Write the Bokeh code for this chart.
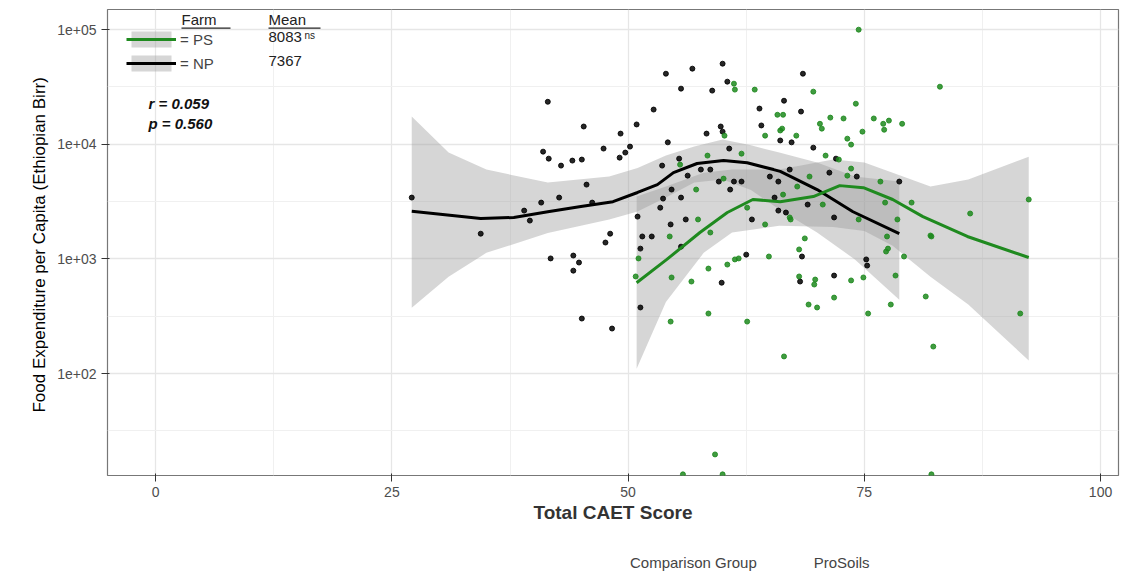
from bokeh.embed import file_html
from bokeh.resources import INLINE
from bokeh.layouts import column
from bokeh.plotting import figure
from bokeh.models import Range1d, FixedTicker, Legend, LegendItem, Label, BoxAnnotation

# ---- data ----
np_x = [27.1, 34.4, 41.5, 39.0, 39.6, 40.8, 42.7, 41.0, 41.6, 42.9, 44.1, 45.1, 45.3, 45.6,
        46.2, 47.4, 49.2, 49.1, 49.7, 50.2, 50.9, 52.7, 54.0, 55.6, 56.8, 58.9, 60.0, 60.5,
        41.8, 44.2, 44.8, 44.2, 47.6, 48.1, 54.2, 53.6, 55.4, 54.6, 53.7, 53.4, 54.5, 56.1,
        55.6, 55.6, 56.3, 57.7, 58.7, 58.3, 59.8, 60.0, 51.0, 51.5, 52.5, 51.3, 60.7, 60.8,
        61.2, 62.0, 59.6, 62.5, 59.9, 63.9, 64.1, 63.1, 65.0, 68.5, 66.5, 68.3, 66.1, 67.3,
        69.6, 72.0, 67.1, 65.9, 65.5, 65.9, 66.7, 69.0, 71.8, 71.3, 74.2, 78.7, 68.4, 68.2,
        71.8, 75.2, 75.3, 48.3, 45.1, 51.3]
np_y = [3430, 1660, 23500, 2640, 2160, 3100, 3430, 8630, 7500, 6520, 7210, 7360, 14300, 4450,
        3100, 9180, 12400, 7650, 8470, 9550, 14900, 20100, 41300, 30600, 45700, 29400, 50500, 35200,
        1010, 1070, 930, 790, 1390, 1660, 10400, 6520, 7500, 4030, 3360, 2800, 2000, 2210,
        1280, 3430, 5330, 6020, 6020, 12400, 14300, 12900, 2340, 1570, 1570, 1230, 9180, 4030,
        4730, 4730, 4730, 1090, 620, 20500, 14600, 2210, 5230, 41300, 24000, 19300, 10800, 10400,
        9350, 7500, 6020, 4730, 3430, 2640, 2540, 2980, 2300, 5660, 5230, 4730, 1050, 635,
        716, 990, 875, 247, 302, 377]

ps_x = [61.2, 61.3, 63.4, 69.6, 74.1, 83.0, 74.4, 65.8, 66.4, 66.3, 66.1, 64.5, 67.8, 60.2,
        70.3, 70.5, 71.4, 72.8, 76.0, 77.0, 77.6, 77.1, 79.0, 74.8, 73.2, 73.6, 70.9, 72.3,
        73.6, 73.2, 69.2, 76.7, 67.9, 66.4, 70.6, 62.0, 58.4, 55.5, 60.1, 57.2, 62.6, 57.4,
        58.7, 54.4, 51.1, 50.8, 54.6, 56.7, 58.5, 60.5, 61.3, 61.7, 64.9, 64.5, 67.2, 67.1,
        68.7, 68.1, 68.1, 69.8, 69.7, 71.8, 73.6, 74.9, 69.1, 70.0, 75.4, 77.8, 78.3, 79.2,
        77.4, 77.3, 77.5, 78.5, 77.2, 80.0, 74.4, 82.0, 82.1, 86.2, 92.4, 81.5, 82.3, 91.5,
        66.5, 62.6, 58.5, 54.5, 59.2, 55.8, 60.0, 82.1]
ps_y = [33800, 30000, 30000, 28800, 22600, 31800, 100000, 18100, 18100, 13700, 13200, 11900, 11900, 11900,
        15100, 13700, 17100, 16800, 16800, 15100, 16100, 13400, 15100, 12900, 11200, 9940, 7970, 7360,
        6140, 5330, 5230, 4730, 4280, 3640, 2980, 8290, 7970, 6650, 5020, 4030, 2800, 2210,
        1700, 1570, 1010, 703, 689, 635, 824, 893, 990, 1010, 1050, 2000, 2210, 2300,
        1510, 1210, 703, 661, 598, 460, 649, 689, 400, 377, 334, 400, 716, 1050,
        1570, 1160, 1230, 2210, 3100, 3100, 2210, 1600, 1570, 2490, 3300, 470, 172, 334,
        141, 284, 334, 284, 19.7, 13.2, 13.2, 13.2]

# loess fits and confidence bands
np_fit_x = [27.1, 34.4, 37.9, 41.5, 45.0, 48.4, 51.0, 53.1, 54.8, 57.3, 60.1, 62.6, 65.4, 66.1, 70.0, 73.8, 78.7]
np_fit_y = [2600, 2250, 2300, 2580, 2870, 3160, 3800, 4450, 5660, 6800, 7210, 6900, 6020, 5800, 4030, 2580, 1660]
np_band_x = [27.1, 31.0, 35.0, 41.5, 48.0, 51.0, 54.0, 57.0, 60.0, 63.0, 66.0, 70.0, 74.0, 78.7]
np_band_hi = [17500, 8470, 6020, 4640, 5230, 6200, 8000, 9550, 11000, 9800, 8470, 6940, 5230, 4730]
np_band_lo = [375, 700, 1130, 1680, 2210, 2590, 3430, 4640, 4930, 4000, 2700, 1700, 990, 440]

ps_fit_x = [50.9, 54.1, 57.6, 60.5, 63.2, 66.1, 69.6, 72.4, 74.9, 78.0, 81.2, 85.9, 92.4]
ps_fit_y = [620, 990, 1700, 2540, 3300, 3160, 3500, 4360, 4180, 3300, 2340, 1570, 1030]
ps_band_x = [50.9, 54.0, 58.0, 61.0, 66.0, 71.7, 75.0, 78.0, 82.0, 86.0, 92.4]
ps_band_hi = [3500, 4280, 5660, 6020, 6020, 7360, 6940, 5660, 4280, 4930, 7800]
ps_band_lo = [110, 420, 1130, 1700, 1950, 1900, 1750, 1300, 700, 400, 130]

GREEN = "#1f8a1f"
FONT = "Liberation Sans"
FH = 466  # frame height, used to place the key from the top

p = figure(frame_width=1011, frame_height=FH, output_backend="svg", toolbar_location=None,
           y_axis_type="log", x_range=Range1d(-5.1, 101.9), y_range=Range1d(12.9, 1.5e5),
           min_border_left=107, min_border_top=9, min_border_right=15, min_border_bottom=70,
           x_axis_label="Total CAET Score",
           y_axis_label="Food Expenditure per Capita  (Ethiopian Birr)")

np_band = p.varea(np_band_x, np_band_lo, np_band_hi, fill_color="#999999", fill_alpha=0.4)
ps_band = p.varea(ps_band_x, ps_band_lo, ps_band_hi, fill_color="#999999", fill_alpha=0.4)
p.scatter(np_x, np_y, size=5, color="black", alpha=0.85)
p.scatter(ps_x, ps_y, size=5, color=GREEN, alpha=0.85)
np_line = p.line(np_fit_x, np_fit_y, line_color="black", line_width=3)
ps_line = p.line(ps_fit_x, ps_fit_y, line_color=GREEN, line_width=3)

# axes and grid
p.xaxis.ticker = FixedTicker(ticks=[0, 25, 50, 75, 100], minor_ticks=[12.5, 37.5, 62.5, 87.5])
p.yaxis.ticker = FixedTicker(ticks=[100, 1000, 10000, 100000],
                             minor_ticks=[10 ** 1.5, 10 ** 2.5, 10 ** 3.5, 10 ** 4.5])
p.yaxis.major_label_overrides = {100: "1e+02", 1000: "1e+03", 10000: "1e+04", 100000: "1e+05"}
for ax in (p.xaxis, p.yaxis):
    ax.axis_line_color = None
    ax.minor_tick_line_color = None
    ax.major_tick_line_color = "#333333"
    ax.major_label_text_font = FONT
    ax.major_label_text_font_size = "14px"
    ax.major_label_text_color = "#4d4d4d"
    ax.axis_label_text_font = FONT
    ax.axis_label_text_font_style = "normal"
p.xaxis.axis_label_text_font_size = "19px"
p.xaxis.axis_label_text_font_style = "bold"
p.xaxis.axis_label_text_color = "#333333"
p.xaxis.axis_label_standoff = 2
p.yaxis.axis_label_text_font_size = "17px"
p.yaxis.axis_label_text_color = "black"
p.grid.grid_line_color = "#e6e6e6"
p.grid.grid_line_width = 1.3
p.grid.minor_grid_line_color = "#f0f0f0"
p.outline_line_color = "#777777"
p.outline_line_width = 1.2

# inner key (screen y counts from the frame bottom)
key = Legend(items=[LegendItem(label="= PS", renderers=[ps_band, ps_line]),
                    LegendItem(label="= NP", renderers=[np_band, np_line])],
             location=(19, FH - 64), label_text_font=FONT, label_text_font_size="15px",
             border_line_color=None, background_fill_alpha=0, glyph_width=50,
             glyph_height=20, spacing=4, padding=2, label_standoff=4)
p.add_layout(key, "center")

for t, x, dy in (("Farm", 74, 1), ("Mean", 161, 1), ("8083", 161, 22), ("7367", 161, 46)):
    p.add_layout(Label(x=x, y=FH - dy, x_units="screen", y_units="screen", text=t,
                       text_font=FONT, text_font_size="15px", text_color="#222222",
                       text_baseline="top"))
p.add_layout(Label(x=197, y=FH - 20, x_units="screen", y_units="screen", text="ns",
                   text_font=FONT, text_font_size="10px", text_color="#222222",
                   text_baseline="top"))
for x0, x1 in ((74, 123), (161, 213)):
    p.add_layout(BoxAnnotation(left=x0, right=x1, top=FH - 18, bottom=FH - 19.3,
                               left_units="screen", right_units="screen",
                               top_units="screen", bottom_units="screen",
                               fill_color="#222222", fill_alpha=1, line_color=None))
for t, dy in (("r = 0.059", 85), ("p = 0.560", 105)):
    p.add_layout(Label(x=41, y=FH - dy, x_units="screen", y_units="screen", text=t,
                       text_font=FONT, text_font_size="15px", text_font_style="bold italic",
                       text_color="#111111", text_baseline="top"))

# bottom legend lives in its own strip under the chart
leg = figure(width=1133, height=28, output_backend="svg", toolbar_location=None,
             x_range=Range1d(0, 1), y_range=Range1d(0, 1), min_border=0)
leg.axis.visible = False
leg.grid.visible = False
leg.outline_line_color = None
lb_np = leg.varea([], [], [], fill_color="#999999", fill_alpha=0.4)
ll_np = leg.line([], [], line_color="black", line_width=3)
lp_np = leg.scatter([], [], size=5, color="black")
lb_ps = leg.varea([], [], [], fill_color="#999999", fill_alpha=0.4)
ll_ps = leg.line([], [], line_color=GREEN, line_width=3)
lp_ps = leg.scatter([], [], size=5, color=GREEN)
bottom = Legend(items=[LegendItem(label="Comparison Group", renderers=[lb_np, ll_np, lp_np]),
                       LegendItem(label="ProSoils", renderers=[lb_ps, ll_ps, lp_ps])],
                orientation="horizontal", location=(478, 0), label_text_font=FONT,
                label_text_font_size="15px", border_line_color=None, glyph_width=40,
                glyph_height=22, spacing=12, margin=0, padding=2,
                background_fill_alpha=0)
leg.add_layout(bottom, "center")

open("out.html", "w").write(file_html(column(p, leg, spacing=0), INLINE))
